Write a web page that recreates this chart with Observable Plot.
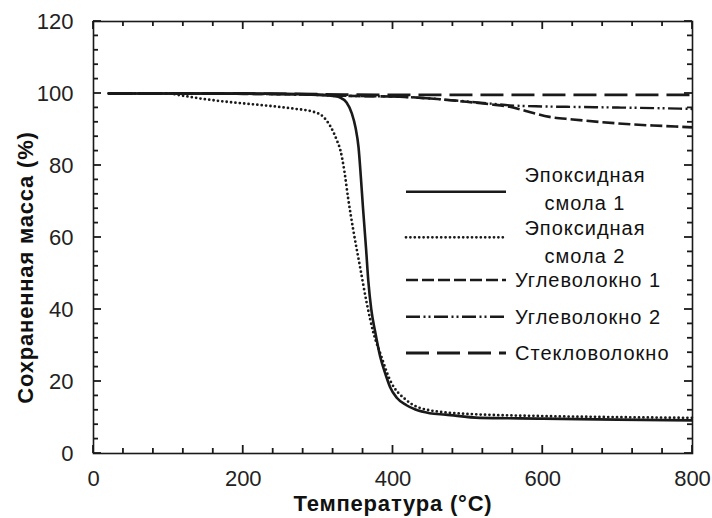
<!DOCTYPE html>
<html><head><meta charset="utf-8">
<script src="https://cdn.jsdelivr.net/npm/d3@7"></script>
<script src="https://cdn.jsdelivr.net/npm/@observablehq/plot@0.6"></script>
<style>body{margin:0;background:#fff}</style>
</head><body><div id="chart"></div>
<script>
// ---- data (temperature °C, retained mass %) ----
const epoxy1T = [20, 100, 200, 300, 320, 330, 338, 345, 350, 354, 357, 360, 364, 367, 371, 376, 383, 390, 396, 405, 418, 430, 449, 470, 516, 600, 700, 800];
const epoxy1V = [100, 100, 100, 99.7, 99.3, 98.8, 97.5, 94.5, 90.5, 85, 77, 68, 57, 48, 40, 34, 26.8, 22, 18.5, 15.5, 13.4, 12.2, 11.2, 10.8, 9.9, 9.7, 9.4, 9.2];
const epoxy2T = [20, 100, 116, 143, 178, 223, 267, 294, 307, 316, 325, 330, 335, 340, 347, 356, 365, 374, 383, 396, 418, 449, 500, 600, 700, 800];
const epoxy2V = [100, 100, 99.5, 98.6, 97.7, 96.8, 95.8, 94.9, 93.5, 91, 87, 84, 78.5, 71, 62, 51.8, 41.7, 33.4, 27.8, 20.4, 14.8, 12, 11, 10.4, 10.1, 9.9];
const carbon1T = [20, 100, 200, 300, 350, 409, 450, 498, 530, 556, 580, 609, 640, 676, 720, 760, 800];
const carbon1V = [100, 100, 99.9, 99.6, 99.3, 99.1, 98.6, 97.7, 97, 96.3, 95, 93.5, 92.8, 92.1, 91.4, 91, 90.6];
const carbon2T = [20, 100, 200, 300, 350, 409, 450, 498, 530, 556, 600, 632, 700, 783, 800];
const carbon2V = [100, 100, 99.9, 99.6, 99.3, 99.1, 98.6, 97.8, 97.2, 96.7, 96.4, 96.3, 96.1, 95.8, 95.7];
const glassT = [20, 100, 200, 300, 400, 500, 600, 700, 800];
const glassV = [100, 100, 100, 99.8, 99.6, 99.6, 99.6, 99.6, 99.6];

const seriesNames = ["Эпоксидная\nсмола 1", "Эпоксидная\nсмола 2", "Углеволокно 1", "Углеволокно 2", "Стекловолокно"];
const xTickLabels = [0, 200, 400, 600, 800];
const yTickLabels = [0, 20, 40, 60, 80, 100, 120];
const xMinorTicks = d3.range(0, 801, 40);
const yMinorTicks = d3.range(0, 121, 4);

// ---- styles / layout ----
const W = 712, H = 518, mL = 93, mR = 20, mT = 21, mB = 65;
const innerW = W - mL - mR, innerH = H - mT - mB;
const minor = 5, major = 8, tickW = 1.8;
const seriesStyles = [
  {strokeWidth: 2.6, dash: null, cap: "butt"},
  {strokeWidth: 2.8, dash: "0,4.4", cap: "round"},
  {strokeWidth: 2.6, dash: "12,4", cap: "butt"},
  {strokeWidth: 2.4, dash: "14,3.5,2,3,2,3.5", cap: "butt"},
  {strokeWidth: 2.8, dash: "23,8", cap: "butt"}
];
const seriesData = [
  [epoxy1T, epoxy1V], [epoxy2T, epoxy2V], [carbon1T, carbon1V], [carbon2T, carbon2V], [glassT, glassV]
].map(([T, V], i) => T.map((t, j) => ({series: seriesNames[i], t, v: V[j]})));

const ink = "#1a1a1a";
const lineMarks = seriesData.map((rows, i) => Plot.line(rows, {
  x: "t", y: "v", stroke: ink, strokeWidth: seriesStyles[i].strokeWidth,
  strokeDasharray: seriesStyles[i].dash, strokeLinecap: seriesStyles[i].cap, curve: "monotone-x"
})).reverse();

const chart = Plot.plot({
  width: W, height: H,
  marginLeft: mL, marginRight: mR, marginTop: mT, marginBottom: mB,
  x: {domain: [0, 800], label: null},
  y: {domain: [0, 120], label: null},
  style: {fontFamily: "'Liberation Sans', Arial, sans-serif", fontSize: "22px", color: ink, background: "#fff"},
  marks: [
    ...lineMarks,
    Plot.axisX({anchor: "bottom", ticks: xTickLabels, tickSize: 0, tickPadding: 17, label: null, fill: "#222"}),
    Plot.axisY({anchor: "left", ticks: yTickLabels, tickSize: 0, tickPadding: 20, label: null, fill: "#222"}),
    Plot.frame({stroke: ink, strokeWidth: 1.6}),
    Plot.text(["Температура (°C)"], {text: d => d, frameAnchor: "bottom", dy: 50, lineAnchor: "middle", textAnchor: "middle", fontWeight: "bold", fontSize: 22, fill: "#111"}),
    Plot.text(["Сохраненная масса (%)"], {text: d => d, frameAnchor: "left", dx: -68, dy: 30, rotate: -90, lineAnchor: "middle", textAnchor: "middle", fontWeight: "bold", fontSize: 22, fill: "#111"})
  ]
});

const svg = d3.select(chart);

// ---- inward ticks on all four sides, placed with Plot's own scales ----
const xs = chart.scale("x"), ys = chart.scale("y");
const frameTop = mT, frameBottom = H - mB, frameLeft = mL, frameRight = W - mR;
const tg = svg.append("g").attr("stroke", ink).attr("stroke-width", tickW);
xMinorTicks.forEach(d => {
  const len = xTickLabels.includes(d) ? major : minor, px = xs.apply(d);
  tg.append("line").attr("x1", px).attr("x2", px).attr("y1", frameBottom).attr("y2", frameBottom - len);
  tg.append("line").attr("x1", px).attr("x2", px).attr("y1", frameTop).attr("y2", frameTop + len);
});
yMinorTicks.forEach(d => {
  const len = yTickLabels.includes(d) ? major : minor, py = ys.apply(d);
  tg.append("line").attr("y1", py).attr("y2", py).attr("x1", frameLeft).attr("x2", frameLeft + len);
  tg.append("line").attr("y1", py).attr("y2", py).attr("x1", frameRight).attr("x2", frameRight - len);
});

// ---- legend (layout in px) ----
const legendRowY = [191.7, 237.3, 280, 316.7, 353];
const legendTextY = [[175, 203], [228, 256]];
const legendLineX = [406, 506];
svg.selectAll("text").filter(function() { return this.textContent.startsWith("Температура") || this.textContent.startsWith("Сохраненная"); })
  .attr("letter-spacing", 0.8);
const lg = svg.append("g").attr("font-size", 20).attr("letter-spacing", 1).attr("fill", "#111");
seriesNames.forEach((name, i) => {
  const y = legendRowY[i];
  const s = seriesStyles[i];
  lg.append("line").attr("x1", legendLineX[0]).attr("x2", legendLineX[1]).attr("y1", y).attr("y2", y)
    .attr("stroke", ink).attr("stroke-width", s.strokeWidth)
    .attr("stroke-dasharray", s.dash).attr("stroke-linecap", s.cap);
  const lines = name.split("\n");
  if (lines.length > 1) {
    lines.forEach((ln, k) => {
      lg.append("text").attr("x", 585).attr("y", legendTextY[i][k]).attr("dy", "0.35em")
        .attr("text-anchor", "middle").text(ln);
    });
  } else {
    lg.append("text").attr("x", 515).attr("y", y).attr("dy", "0.35em").attr("text-anchor", "start").text(lines[0]);
  }
});

document.getElementById("chart").appendChild(chart);
</script>
</body></html>
